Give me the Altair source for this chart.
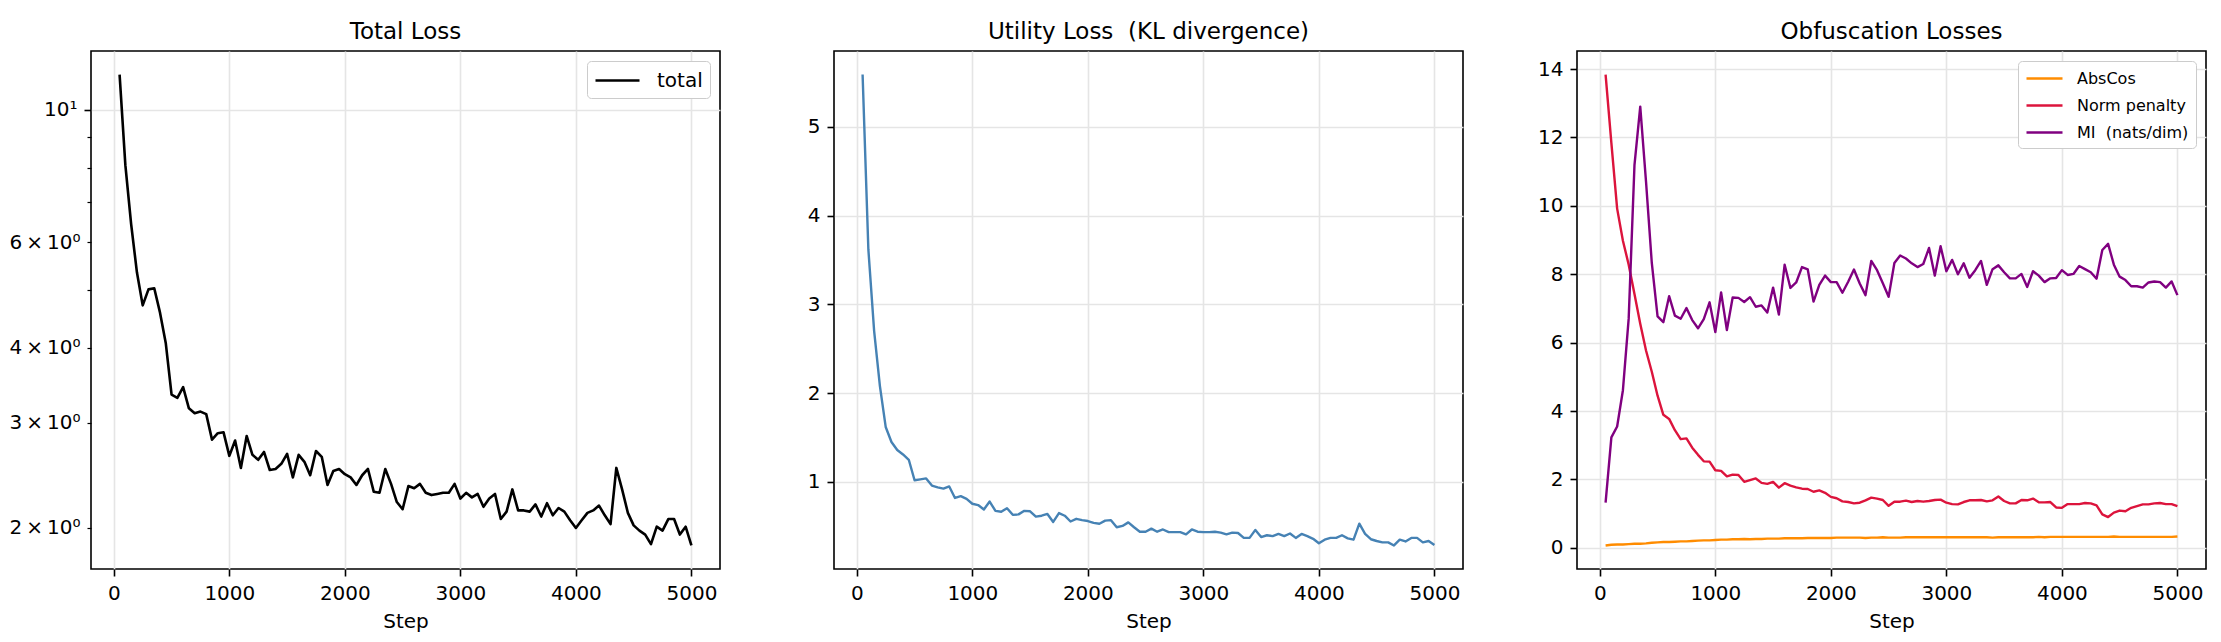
import altair as alt
import numpy as np
import pandas as pd

# logged every 50 steps
steps = list(range(50, 5001, 50))

total = [
    11.45, 8.08, 6.44, 5.35, 4.71, 5.01, 5.03, 4.58, 4.07, 3.34,
    3.30, 3.44, 3.17, 3.11, 3.13, 3.10, 2.81, 2.88, 2.89, 2.64,
    2.80, 2.52, 2.85, 2.65, 2.60, 2.68, 2.50, 2.51, 2.56, 2.66,
    2.43, 2.65, 2.58, 2.45, 2.69, 2.63, 2.36, 2.49, 2.51, 2.46,
    2.43, 2.36, 2.45, 2.51, 2.30, 2.29, 2.51, 2.37, 2.21, 2.15,
    2.35, 2.33, 2.37, 2.29, 2.27, 2.28, 2.29, 2.29, 2.37, 2.24,
    2.29, 2.25, 2.28, 2.17, 2.24, 2.28, 2.07, 2.13, 2.32, 2.14,
    2.14, 2.13, 2.19, 2.09, 2.20, 2.10, 2.16, 2.13, 2.06, 2.00,
    2.06, 2.12, 2.14, 2.18, 2.10, 2.03, 2.52, 2.32, 2.12, 2.02,
    1.98, 1.95, 1.88, 2.01, 1.98, 2.07, 2.07, 1.95, 2.01, 1.87,
]

utility = [
    5.59, 3.62, 2.70, 2.08, 1.62, 1.45, 1.36, 1.31, 1.25, 1.02,
    1.03, 1.04, 0.96, 0.94, 0.925, 0.95, 0.82, 0.84, 0.81, 0.755,
    0.74, 0.69, 0.78, 0.675, 0.665, 0.705, 0.63, 0.635, 0.675, 0.67,
    0.61, 0.62, 0.64, 0.55, 0.65, 0.62, 0.555, 0.585, 0.57, 0.56,
    0.54, 0.53, 0.565, 0.57, 0.49, 0.505, 0.545, 0.49, 0.44, 0.44,
    0.475, 0.44, 0.465, 0.435, 0.435, 0.435, 0.41, 0.465, 0.44, 0.435,
    0.435, 0.44, 0.43, 0.41, 0.43, 0.425, 0.37, 0.37, 0.46, 0.38,
    0.40, 0.39, 0.415, 0.39, 0.42, 0.37, 0.415, 0.39, 0.36, 0.31,
    0.35, 0.37, 0.37, 0.40, 0.365, 0.35, 0.53, 0.415, 0.355, 0.335,
    0.32, 0.32, 0.285, 0.35, 0.33, 0.37, 0.37, 0.32, 0.335, 0.29,
]

abscos = [
    0.07, 0.09, 0.10, 0.10, 0.11, 0.12, 0.12, 0.13, 0.15, 0.16,
    0.17, 0.17, 0.18, 0.19, 0.19, 0.20, 0.21, 0.22, 0.22, 0.23,
    0.24, 0.24, 0.25, 0.25, 0.26, 0.25, 0.26, 0.26, 0.27, 0.27,
    0.27, 0.28, 0.28, 0.28, 0.28, 0.29, 0.29, 0.29, 0.29, 0.29,
    0.30, 0.30, 0.30, 0.30, 0.30, 0.29, 0.30, 0.30, 0.31, 0.30,
    0.30, 0.30, 0.31, 0.31, 0.31, 0.31, 0.31, 0.31, 0.31, 0.31,
    0.31, 0.31, 0.31, 0.31, 0.31, 0.31, 0.31, 0.30, 0.31, 0.31,
    0.31, 0.31, 0.31, 0.31, 0.31, 0.32, 0.31, 0.32, 0.32, 0.32,
    0.32, 0.32, 0.32, 0.32, 0.32, 0.32, 0.32, 0.32, 0.33, 0.32,
    0.32, 0.32, 0.32, 0.32, 0.32, 0.32, 0.32, 0.32, 0.32, 0.33,
]

norm_penalty = [
    13.84, 11.84, 9.92, 8.98, 8.28, 7.42, 6.55, 5.77, 5.15, 4.45,
    3.89, 3.77, 3.44, 3.18, 3.20, 2.93, 2.72, 2.53, 2.52, 2.27,
    2.25, 2.09, 2.14, 2.13, 1.93, 1.98, 2.03, 1.90, 1.87, 1.93,
    1.76, 1.89, 1.82, 1.77, 1.73, 1.72, 1.64, 1.68, 1.61, 1.49,
    1.45, 1.36, 1.34, 1.30, 1.32, 1.39, 1.47, 1.44, 1.40, 1.23,
    1.35, 1.35, 1.38, 1.34, 1.37, 1.35, 1.37, 1.40, 1.41, 1.32,
    1.28, 1.27, 1.34, 1.39, 1.39, 1.40, 1.36, 1.39, 1.50, 1.37,
    1.30, 1.30, 1.40, 1.39, 1.44, 1.33, 1.33, 1.34, 1.18, 1.17,
    1.28, 1.28, 1.28, 1.31, 1.30, 1.24, 0.98, 0.90, 1.03, 1.09,
    1.07, 1.17, 1.22, 1.27, 1.27, 1.30, 1.31, 1.28, 1.28, 1.22,
]

mi = [
    1.32, 3.23, 3.55, 4.61, 6.71, 11.19, 12.90, 10.71, 8.33, 6.77,
    6.60, 7.36, 6.79, 6.70, 7.01, 6.66, 6.42, 6.69, 7.18, 6.31,
    7.47, 6.37, 7.32, 7.31, 7.19, 7.33, 7.05, 7.09, 6.88, 7.61,
    6.82, 8.28, 7.60, 7.76, 8.21, 8.14, 7.20, 7.69, 7.96, 7.77,
    7.77, 7.46, 7.78, 8.14, 7.73, 7.39, 8.39, 8.12, 7.74, 7.34,
    8.33, 8.55, 8.46, 8.32, 8.21, 8.30, 8.77, 7.96, 8.82, 8.09,
    8.42, 8.00, 8.32, 7.90, 8.12, 8.39, 7.69, 8.15, 8.26, 8.06,
    7.88, 7.88, 8.01, 7.63, 8.09, 7.96, 7.77, 7.88, 7.89, 8.12,
    7.98, 8.01, 8.24, 8.15, 8.06, 7.87, 8.71, 8.89, 8.28, 7.93,
    7.83, 7.65, 7.65, 7.61, 7.76, 7.79, 7.77, 7.61, 7.79, 7.39,
]

obf_names = ["AbsCos", "Norm penalty", "MI \u00a0(nats/dim)"]
obf_colors = ["#ff8c00", "#dc143c", "#800080"]

W, H = 629, 518
FONT = "DejaVu Sans"


def margins(lo, hi, frac=0.05):
    # matplotlib-style 5% data margins
    span = hi - lo
    return [lo - frac * span, hi + frac * span]


x_dom = margins(min(steps), max(steps))


def x_enc():
    return alt.X(
        "step:Q", title="Step",
        scale=alt.Scale(domain=x_dom, nice=False, zero=False),
        axis=alt.Axis(values=[0, 1000, 2000, 3000, 4000, 5000], format="d"),
    )


def legend(font_size, sym_len, gap, row_pad, stroke_w):
    # a flat path twice as long as the nominal symbol, so rows stay compact
    half = sym_len / 2
    return alt.Legend(
        title=None, orient="top-right", offset=10,
        labelFontSize=font_size, labelColor="black", labelOffset=half + gap,
        symbolType="M-1,0H3", symbolSize=half ** 2, symbolStrokeWidth=stroke_w,
        fillColor="white", strokeColor="#cccccc", cornerRadius=4, padding=7,
        rowPadding=row_pad,
    )


# --- Panel 1: total loss (log y) ---
df_total = pd.DataFrame({"step": steps, "value": total, "series": "total"})
lo, hi = np.log10(min(total)), np.log10(max(total))
y1_dom = [float(10 ** v) for v in margins(lo, hi)]

label_expr = (
    "datum.value == 10 ? '10\u00b9' : "
    "(indexof([2, 3, 4, 6], datum.value) >= 0 ? datum.value + '\u2009\u00d7\u200910\u2070' : '')"
)
is_major = "datum.value == 10"

p1 = alt.Chart(df_total).mark_line(strokeWidth=2.6, strokeJoin="round").encode(
    x=x_enc(),
    y=alt.Y(
        "value:Q", title=None,
        scale=alt.Scale(type="log", domain=y1_dom, nice=False),
        axis=alt.Axis(
            values=[2, 3, 4, 5, 6, 7, 8, 9, 10], labelExpr=label_expr, labelOverlap=False,
            tickSize={"condition": {"test": is_major, "value": 7}, "value": 4},
            tickWidth={"condition": {"test": is_major, "value": 1.6}, "value": 1.2},
            gridOpacity={"condition": {"test": is_major, "value": 1}, "value": 0},
        ),
    ),
    color=alt.Color("series:N", scale=alt.Scale(domain=["total"], range=["#000000"]),
                    legend=legend(20, 44, 16, 0, 2.6)),
).properties(width=W, height=H, title="Total Loss")

# --- Panel 2: utility loss ---
df_util = pd.DataFrame({"step": steps, "value": utility})
p2 = alt.Chart(df_util).mark_line(strokeWidth=2.4, strokeJoin="round", color="#4682b4").encode(
    x=x_enc(),
    y=alt.Y("value:Q", title=None,
            scale=alt.Scale(domain=margins(min(utility), max(utility)), nice=False, zero=False),
            axis=alt.Axis(values=[1, 2, 3, 4, 5])),
).properties(width=W, height=H, title="Utility Loss \u00a0(KL divergence)")

# --- Panel 3: obfuscation losses ---
df_obf = pd.concat([
    pd.DataFrame({"step": steps, "value": abscos, "series": obf_names[0]}),
    pd.DataFrame({"step": steps, "value": norm_penalty, "series": obf_names[1]}),
    pd.DataFrame({"step": steps, "value": mi, "series": obf_names[2]}),
])
all_obf = abscos + norm_penalty + mi
p3 = alt.Chart(df_obf).mark_line(strokeWidth=2.4, strokeJoin="round").encode(
    x=x_enc(),
    y=alt.Y("value:Q", title=None,
            scale=alt.Scale(domain=margins(min(all_obf), max(all_obf)), nice=False, zero=False),
            axis=alt.Axis(values=[0, 2, 4, 6, 8, 10, 12, 14])),
    color=alt.Color("series:N", scale=alt.Scale(domain=obf_names, range=obf_colors),
                    sort=obf_names, legend=legend(16, 36, 13, 8, 2.4)),
).properties(width=W, height=H, title="Obfuscation Losses")

chart = alt.hconcat(p1, p2, p3, spacing=114, bounds="flush").resolve_scale(
    color="independent"
).properties(
    padding={"left": 0, "top": 12, "right": 5, "bottom": 0}
).configure(
    font=FONT
).configure_view(
    stroke="black", strokeWidth=1.6
).configure_axis(
    labelFontSize=20, titleFontSize=20, titleFontWeight="normal",
    labelColor="black", titleColor="black", tickColor="black",
    tickWidth=1.6, tickSize=7, labelPadding=7, titlePadding=8, domain=False,
    gridColor="#e5e5e5", gridWidth=1.6,
).configure_title(
    fontSize=23, fontWeight="normal", color="black", offset=7, anchor="middle",
    baseline="alphabetic"
)

chart.save("out.html", embed_options={"renderer": "svg", "actions": False})
